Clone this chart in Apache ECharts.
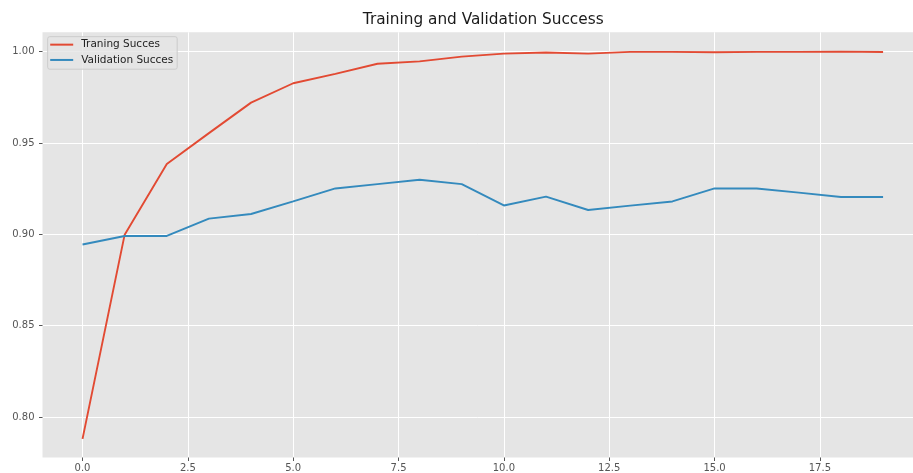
<!DOCTYPE html>
<html>
<head>
<meta charset="utf-8">
<script src="https://cdn.jsdelivr.net/npm/echarts@6/dist/echarts.min.js"></script>
<style>
html,body{margin:0;padding:0;background:#fff;}
#chart{width:913px;height:473px;}
</style>
</head>
<body>
<div id="chart"></div>
<script>
const epochs = [0,1,2,3,4,5,6,7,8,9,10,11,12,13,14,15,16,17,18,19];
const trainSuccess = [0.788, 0.8998, 0.9385, 0.9554, 0.9721, 0.9827, 0.9878, 0.9934, 0.9947, 0.9973, 0.9989, 0.9995, 0.9989, 0.9999, 0.9999, 0.9997, 0.9999, 0.9999, 1.0, 0.9998];
const valSuccess = [0.8944, 0.8991, 0.8991, 0.9086, 0.9111, 0.918, 0.9251, 0.9275, 0.9299, 0.9275, 0.9158, 0.9206, 0.9133, 0.9157, 0.918, 0.9251, 0.9251, 0.9228, 0.9204, 0.9204];
const xTicks = [0, 2.5, 5, 7.5, 10, 12.5, 15, 17.5];
const yTicks = [0.80, 0.85, 0.90, 0.95, 1.00];
const seriesNames = ['Traning Succes', 'Validation Succes'];
const titleText = 'Training and Validation Success';

const FONT = 'DejaVu Sans';
const chart = echarts.init(document.getElementById('chart'), null, {renderer: 'canvas'});
const pairs = arr => epochs.map((e, i) => [e, arr[i]]);

chart.setOption({
  animation: false,
  backgroundColor: '#ffffff',
  title: {
    text: titleText,
    left: 362.8,
    top: 13,
    padding: 0,
    textStyle: {fontFamily: FONT, fontSize: 15.3, fontWeight: 'normal', color: '#1a1a1a'}
  },
  legend: {
    left: 47.7,
    top: 36.7,
    orient: 'vertical',
    padding: [1.2, 4, 2.5, 2.5],
    itemGap: 1.8,
    itemWidth: 23,
    itemHeight: 2,
    icon: 'rect',
    backgroundColor: 'rgba(229,229,229,0.8)',
    borderColor: '#cccccc',
    borderWidth: 1,
    borderRadius: 2,
    data: seriesNames,
    textStyle: {fontFamily: FONT, fontSize: 10.5, color: '#222222', lineHeight: 13.5, padding: [0, 0, 0, 3]}
  },
  grid: {
    left: 42.5,
    right: 0,
    top: 32.3,
    bottom: 14.7,
    show: true,
    backgroundColor: '#E5E5E5',
    borderWidth: 0,
    containLabel: false
  },
  xAxis: {
    type: 'value',
    min: -0.95,
    max: 19.71,
    axisLine: {show: false, onZero: false},
    axisTick: {show: true, length: 3.5, lineStyle: {color: '#555555', width: 1}, customValues: xTicks},
    axisLabel: {fontFamily: FONT, fontSize: 10, color: '#555555', margin: 5.5, customValues: xTicks,
      formatter: v => v.toFixed(1)},
    splitLine: {show: true, lineStyle: {color: '#ffffff', width: 1}}
  },
  yAxis: {
    type: 'value',
    min: 0.7778,
    max: 1.0106,
    axisLine: {show: false, onZero: false},
    axisTick: {show: true, length: 3.5, lineStyle: {color: '#555555', width: 1}, customValues: yTicks},
    axisLabel: {fontFamily: FONT, fontSize: 10, color: '#555555', margin: 8, customValues: yTicks,
      formatter: v => v.toFixed(2)},
    splitLine: {show: true, lineStyle: {color: '#ffffff', width: 1}}
  },
  series: [
    {
      name: seriesNames[0],
      type: 'line',
      data: pairs(trainSuccess),
      showSymbol: false,
      symbol: 'none',
      lineStyle: {color: '#E24A33', width: 1.9},
      itemStyle: {color: '#E24A33'}
    },
    {
      name: seriesNames[1],
      type: 'line',
      data: pairs(valSuccess),
      showSymbol: false,
      symbol: 'none',
      lineStyle: {color: '#348ABD', width: 1.9},
      itemStyle: {color: '#348ABD'}
    }
  ]
});
</script>
</body>
</html>
